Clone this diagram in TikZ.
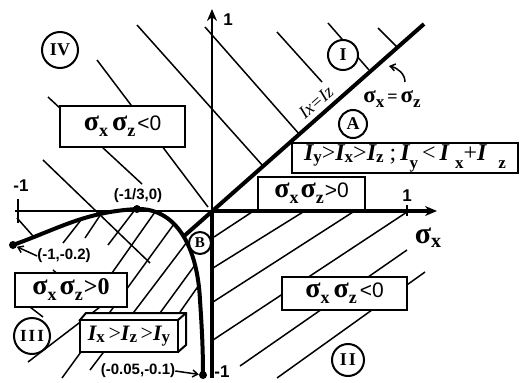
\documentclass[tikz,border=0pt]{standalone}
\usepackage{fontspec}
\setmainfont{Liberation Serif}
\newfontfamily\arialf{Liberation Sans}
\usetikzlibrary{arrows.meta}
\newcommand{\fs}[1]{\fontsize{#1}{#1}\selectfont}
\newcommand{\sg}[1]{{\fs{28}\bfseries σ}\raisebox{-6pt}{\fs{18}\bfseries #1}}
\newcommand{\Ib}{{\bfseries\itshape I}}
\newcommand{\sbs}[1]{\raisebox{-2pt}{\fs{17}\bfseries #1}}
\newcommand{\sbl}[1]{\raisebox{-8pt}{\fs{17}\bfseries #1}}
\begin{document}
\begin{tikzpicture}[x=1pt,y=-1pt,
  hatch/.style={line width=1.5pt},
  axisthin/.style={line width=2.4pt},
  axisthick/.style={line width=3.6pt},
  heavy/.style={line width=4pt},
  boxn/.style={draw,line width=2pt,fill=white,inner sep=0pt},
  circn/.style={draw,circle,line width=2pt,fill=white,inner sep=0pt,font=\fs{18}\bfseries},
  dotn/.style={circle,fill=black,inner sep=0pt,minimum size=8pt},
  coordl/.style={inner sep=0pt,font=\arialf\bfseries\fs{15}},
  lbarrow/.style={line width=1.5pt,-{Straight Barb[length=5pt,width=7pt]}},
  axtip/.style={-{Stealth[length=12pt,width=10pt]}}
]
\fill[white] (0,0) rectangle (520,383);
\useasboundingbox (0,0) rectangle (520,383);

% ---- hatching "\" ----
\draw[hatch] (137,25) -- (263,166);
\draw[hatch] (205,27) -- (300,135);
\draw[hatch] (277,32) -- (322,82);
\draw[hatch] (328,23) -- (369,70);
\draw[hatch] (378,28) -- (397,47);
\draw[hatch] (97,60) -- (208,207);
\draw[hatch] (48,97) -- (142,184);
\draw[hatch] (43,160) -- (150,263);
\draw[hatch] (17,218) -- (33,236);
\draw[hatch] (53,270) -- (62,278);
\draw[hatch] (30,307) -- (43,317);

% ---- hatching "/" region II ----
\draw[hatch] (214,237) -- (252,212);
\draw[hatch] (213,268) -- (303,212);
\draw[hatch] (213,302) -- (353,212);
\draw[hatch] (213,340) -- (407,212);
\draw[hatch] (240,366) -- (407,250);
\draw[hatch] (277,378) -- (425,272);

% ---- hatching "/" lower left ----
\draw[hatch] (63,243) -- (81,220);
\draw[hatch] (85,238) -- (101,214);
\draw[hatch] (108,245) -- (134,211);
\draw[hatch] (100,290) -- (155,212);
\draw[hatch] (62,378) -- (174,224);
\draw[hatch] (90,370) -- (187,242);
\draw[hatch] (160,313) -- (195,265);
\draw[hatch] (180,312) -- (199,285);
\draw[hatch] (28,362) -- (100,307);

% ---- boxes ----
\node[boxn,minimum width=125pt,minimum height=41pt] (b1) at (122.5,126.5)
  {\sg{x}\hspace{4pt}\sg{z}\hspace{2pt}{\arialf\fs{21}<0}};
\node[boxn,minimum width=226pt,minimum height=30pt] (b2) at (405,158)
  {\fs{24}\Ib\sbs{y}>\Ib\sbs{x}>\Ib\sbs{z}\ ;\,\Ib\sbl{y}\,<\,\Ib\ \sbl{x}+\Ib\ \ \sbl{z}};
\node[boxn,minimum width=107pt,minimum height=33pt] (b3) at (311.5,193.5)
  {\sg{x}\hspace{2pt}\sg{z}\hspace{1pt}{\arialf\fs{21}>0}};
\node[boxn,minimum width=112pt,minimum height=34pt] (b4) at (71,290)
  {\sg{x}\hspace{3pt}\sg{z}\hspace{1pt}{\bfseries\fs{24}>0}};
% 3D box
\draw[line width=2pt,fill=white] (80,320) -- (86,313) -- (186,313) -- (186,345) -- (178,352) -- cycle;
\draw[line width=2pt] (178,320) -- (186,313);
\node[boxn,minimum width=98pt,minimum height=32pt] (b5) at (129,336)
  {\fs{22}\Ib\sbs{x}\,>\Ib\sbs{z}\,>\Ib\sbs{y}};
\node[boxn,minimum width=125pt,minimum height=33pt] (b6) at (344.5,293.5)
  {\sg{x}\hspace{4pt}\sg{z}\hspace{3pt}{\arialf\fs{21}<0}};

% ---- axes ----
\coordinate (O) at (212,211);
\coordinate (xl) at (15,211);
\coordinate (xr) at (437,211);
\coordinate (yt) at (212,9);
\coordinate (yb) at (212,378);
\draw[axisthin] (xl) -- (O);
\draw[axisthick,axtip] (O) -- (xr);
\draw[axisthin,axtip] (O) -- (yt);
\draw[line width=4.2pt] (O) -- (yb);
\coordinate (t1a) at (18,199); \coordinate (t1b) at (18,223);
\draw[line width=2.2pt] (t1a) -- (t1b);
\coordinate (t2a) at (407,205); \coordinate (t2b) at (407,216);
\draw[line width=2pt] (t2a) -- (t2b);

% ---- diagonal sigma_x = sigma_z ----
\coordinate (D1) at (183,237);
\coordinate (D2) at (424,24);
\draw[heavy] (D1) -- (D2);

% ---- curve ----
\node[dotn] (dL) at (13,245) {};
\node[dotn] (dM) at (137,209) {};
\node[dotn] (dB) at (203,375) {};
\draw[heavy] (dL.center) .. controls (60,228) and (85,212) .. (dM.center)
  .. controls (172,208) and (197,240) .. (200,300)
  .. controls (202,330) and (203,350) .. (dB.center);

% ---- circles ----
\node[circn,minimum size=36pt] (cIV) at (60,50) {IV};
\node[circn,minimum size=30pt] (cI) at (343,55) {I};
\node[circn,minimum size=28pt] (cA) at (353,124) {A};
\node[circn,minimum size=22pt,font=\fs{15}\bfseries] (cB) at (200,243) {B};
\node[circn,minimum size=36pt,font=\fs{17}\bfseries] (cIII) at (32,336) {I\hspace{2pt}I\hspace{2pt}I};
\node[circn,minimum size=32pt] (cII) at (348,360) {I\hspace{2pt}I};

% ---- axis labels ----
\node[coordl,font=\arialf\bfseries\fs{17}] (ly1) at (228,20) {1};
\node[coordl,font=\arialf\bfseries\fs{17}] (lxm1) at (21,186) {-1};
\node[coordl,font=\arialf\bfseries\fs{17}] (lx1) at (407,196) {1};
\node[coordl,font=\arialf\bfseries\fs{17}] (lym1) at (222,372) {-1};
\node[inner sep=0pt] (sx) at (428,238) {{\fs{30}\bfseries σ}\raisebox{-4pt}{\fs{20}\bfseries x}};

% ---- point labels ----
\node[coordl] (lbM) at (138,196) {(-1/3,0)};
\node[coordl] (lbL) at (64,256) {(-1,-0.2)};
\draw[lbarrow] (lbL.west) -- (dL);
\node[coordl] (lbB) at (138,371) {(-0.05,-0.1)};
\draw[lbarrow] (lbB.east) -- (dB);

% ---- diagonal labels ----
\node[inner sep=0pt,rotate=41,font=\itshape\fs{18}] (lIxz) at (316,102) {Ix=Iz};
\node[inner sep=0pt] (lsxz) at (392,99) {{\fs{23}\bfseries σ}\raisebox{-5pt}{\fs{17}\bfseries x}{\fs{18}\bfseries\,=\,}{\fs{23}\bfseries σ}\raisebox{-5pt}{\fs{17}\bfseries z}};
\coordinate (ar1) at (405,82);
\coordinate (ar2) at (389,66);
\draw[lbarrow] (ar1) .. controls (405,74) and (398,68) .. (ar2);
\end{tikzpicture}
\end{document}
